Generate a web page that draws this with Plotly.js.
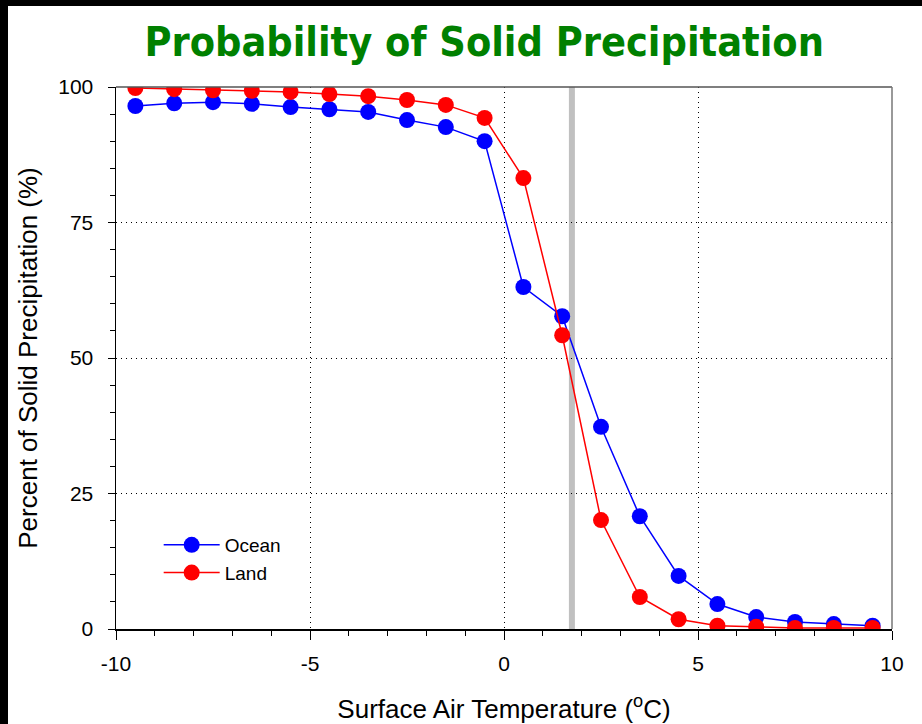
<!DOCTYPE html>
<html>
<head>
<meta charset="utf-8">
<script src="https://cdn.plot.ly/plotly-3.0.1.min.js"></script>
<style>
html,body{margin:0;padding:0;background:#000;width:922px;height:724px;overflow:hidden;}
#chart{position:absolute;left:8px;top:6px;width:914px;height:718px;background:#fff;}
</style>
</head>
<body>
<div id="chart"></div>
<script>
const temperature = [-9.5,-8.5,-7.5,-6.5,-5.5,-4.5,-3.5,-2.5,-1.5,-0.5,0.5,1.5,2.5,3.5,4.5,5.5,6.5,7.5,8.5,9.5];
const ocean = [96.5,97.0,97.2,96.9,96.3,95.9,95.4,93.9,92.6,90.0,63.1,57.7,37.3,20.8,9.8,4.6,2.2,1.3,0.9,0.6];
const land  = [99.8,99.6,99.4,99.3,99.1,98.7,98.3,97.6,96.7,94.3,83.2,54.2,20.1,5.9,1.8,0.6,0.4,0.2,0.2,0.2];
const thresholdTemp = 1.75;
const xTicks = [-10,-5,0,5,10];
const yTicks = [0,25,50,75,100];

const traces = [
  {x: temperature, y: ocean, name: 'Ocean', type: 'scatter', mode: 'lines+markers',
   line: {color: '#0000ff', width: 1.5}, marker: {color: '#0000ff', size: 16}},
  {x: temperature, y: land, name: 'Land', type: 'scatter', mode: 'lines+markers',
   line: {color: '#ff0000', width: 1.5}, marker: {color: '#ff0000', size: 16}}
];

const layout = {
  width: 914, height: 718,
  margin: {l: 108, r: 30, t: 81, b: 95},
  paper_bgcolor: '#fff', plot_bgcolor: '#fff',
  font: {family: 'Liberation Sans, Arial, sans-serif', color: '#000', size: 20},
  title: {text: 'Probability of Solid Precipitation', x: 0.521, xanchor: 'center', y: 0.951, yanchor: 'middle',
          font: {family: 'DejaVu Sans Condensed, DejaVu Sans, sans-serif', weight: 'bold', size: 41, color: '#008000'}},
  showlegend: true,
  legend: {x: 0.055, y: 0.19, xanchor: 'left', yanchor: 'top', bgcolor: 'rgba(0,0,0,0)',
           font: {size: 19}, itemwidth: 56, tracegroupgap: 0},
  xaxis: {range: [-10, 10], tickvals: xTicks, ticktext: xTicks.map(String),
          ticks: 'outside', ticklen: 9, tickwidth: 1, tickcolor: '#000',
          minor: {dtick: 1, tick0: 0, ticks: 'outside', ticklen: 5, tickcolor: '#000', showgrid: false},
          showline: true, linecolor: '#000', linewidth: 1.5, zeroline: false,
          showgrid: true, gridcolor: '#000', griddash: '1px,4px', gridwidth: 1,
          tickfont: {size: 21}, ticklabelstandoff: 6,
          title: {text: 'Surface Air Temperature (<sup>o</sup>C)', font: {size: 26}, standoff: 27}},
  yaxis: {range: [0, 100], tickvals: yTicks, ticktext: yTicks.map(String),
          ticks: 'outside', ticklen: 7, tickwidth: 1, tickcolor: '#000',
          minor: {dtick: 5, tick0: 0, ticks: 'outside', ticklen: 5, tickcolor: '#000', showgrid: false},
          showline: true, linecolor: '#000', linewidth: 1.5, zeroline: false,
          showgrid: true, gridcolor: '#000', griddash: '1px,4px', gridwidth: 1,
          tickfont: {size: 21}, ticklabelstandoff: 10,
          title: {text: 'Percent of Solid Precipitation (%)', font: {size: 26}, standoff: 13}},
  shapes: [
    {type: 'line', xref: 'x', yref: 'paper', x0: thresholdTemp, x1: thresholdTemp, y0: 0, y1: 1,
     line: {color: '#c0c0c0', width: 6}, layer: 'below'},
    {type: 'line', xref: 'paper', yref: 'paper', x0: 0, x1: 1, y0: 1, y1: 1,
     line: {color: '#555', width: 1.5}, layer: 'above'},
    {type: 'line', xref: 'paper', yref: 'paper', x0: 1, x1: 1, y0: 0, y1: 1,
     line: {color: '#777', width: 1.5}, layer: 'above'}
  ]
};

Plotly.newPlot('chart', traces, layout, {displayModeBar: false, staticPlot: true});
</script>
</body>
</html>
